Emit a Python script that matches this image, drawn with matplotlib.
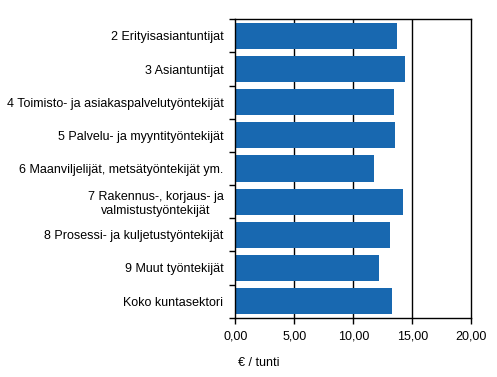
import matplotlib
matplotlib.use("Agg")
import matplotlib.pyplot as plt
from matplotlib.ticker import FixedLocator, FuncFormatter

categories = [
    "2 Erityisasiantuntijat",
    "3 Asiantuntijat",
    "4 Toimisto- ja asiakaspalvelutyöntekijät",
    "5 Palvelu- ja myyntityöntekijät",
    "6 Maanviljelijät, metsätyöntekijät ym.",
    "7 Rakennus-, korjaus- ja\nvalmistustyöntekijät",
    "8 Prosessi- ja kuljetustyöntekijät",
    "9 Muut työntekijät",
    "Koko kuntasektori",
]
values = [13.70, 14.38, 13.45, 13.53, 11.75, 14.21, 13.11, 12.18, 13.28]
xticks = [0, 5, 10, 15, 20]
xlabel = "€ / tunti"

plt.rcParams['font.family'] = ['Liberation Sans', 'DejaVu Sans']

W, H = 497, 377
fig = plt.figure(figsize=(W/100, H/100), dpi=100)
left, right = 235.3, 471.3
top, bottom = 19.3, 317.7
ax = fig.add_axes([left/W, 1 - bottom/H, (right-left)/W, (bottom-top)/H])

n = len(categories)
ypos = list(range(n))
ax.barh(ypos, values, height=0.79, color='#1868B0', zorder=2)
ax.set_ylim(n - 0.5, -0.5)
ax.set_xlim(0, 20)

ax.set_xticks(xticks)
ax.xaxis.set_major_formatter(FuncFormatter(lambda v, p: f"{v:.2f}".replace('.', ',')))
for x in xticks[1:-1]:
    ax.axvline(x, color='black', lw=1, zorder=1)

ax.set_yticks(ypos)
ax.set_yticklabels(categories, fontsize=9, ha='right')
ax.yaxis.set_minor_locator(FixedLocator([i - 0.5 for i in range(n + 1)]))
ax.tick_params(axis='y', which='major', length=0, pad=8.5)
ax.tick_params(axis='y', which='minor', length=4, width=1, color='black')
ax.tick_params(axis='x', which='major', length=4, width=1, labelsize=9, pad=5)
for lab in ax.get_yticklabels():
    lab.set_multialignment('center')

for s in ax.spines.values():
    s.set_color('black')
    s.set_linewidth(1)

fig.text(238/W, 1 - 363/H, xlabel, fontsize=9, ha='left', va='center')

fig.savefig('out.png', dpi=100, facecolor='white')
